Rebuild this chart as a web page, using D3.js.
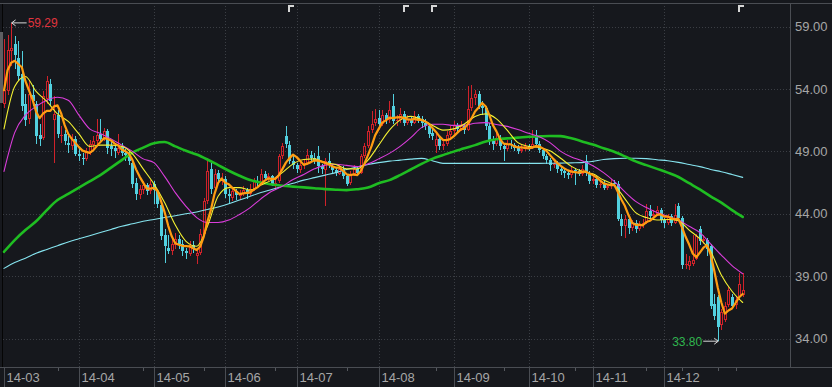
<!DOCTYPE html>
<html><head><meta charset="utf-8">
<script src="https://cdn.jsdelivr.net/npm/d3@7"></script>
<style>
html,body{margin:0;padding:0;background:#16181d;}
svg{display:block;font-family:"Liberation Sans",Arial,sans-serif;}
</style></head><body>
<svg id="chart" width="832" height="387"></svg>
<script>
// ---------- data ----------
const months = ["14-03","14-04","14-05","14-06","14-07","14-08","14-09","14-10","14-11","14-12"];
const daysPerMonth = [21,21,20,20,23,21,21,18,20,23];

const open = [52.8,53.8,57.0,57.6,56.5,55.2,52.8,51.6,53.5,52.8,
50.3,50.1,53.2,54.4,51.5,51.9,50.2,50.4,49.7,49.4,
50.0,48.8,48.5,48.4,48.9,49.5,49.8,50.4,50.0,50.6,
49.4,49.3,48.9,49.4,48.9,48.8,48.1,46.5,45.5,45.9,
46.3,45.8,46.4,45.8,44.7,42.3,41.3,41.0,41.5,42.0,
41.6,41.0,40.8,41.5,40.6,40.9,42.4,45.0,47.6,46.1,
47.3,46.6,46.8,45.6,45.3,45.8,45.4,45.6,45.9,45.6,
46.0,46.6,46.4,47.2,46.9,47.0,46.4,46.6,48.6,50.2,
49.5,48.2,47.9,47.5,47.9,48.0,48.7,48.5,48.6,47.8,
47.5,48.2,47.8,47.5,47.2,47.6,47.0,46.5,47.2,47.6,
47.3,48.6,49.4,50.7,51.3,51.7,51.2,51.9,51.5,52.6,
51.4,51.5,52.0,51.3,51.6,51.3,51.8,51.6,51.3,51.0,
50.5,49.4,50.0,49.4,49.6,50.3,50.6,51.1,50.8,51.0,
50.7,52.5,53.3,53.6,52.6,52.5,51.0,49.8,49.6,50.1,
49.4,49.2,49.6,49.5,49.3,49.0,49.2,49.4,49.3,50.3,
49.6,49.1,48.6,48.3,47.9,48.0,47.6,47.4,47.3,47.1,
47.5,47.4,47.2,48.2,47.2,46.6,46.8,46.3,46.4,46.1,
46.2,46.5,46.4,43.6,43.0,43.6,42.9,43.3,42.8,43.1,
43.3,44.2,43.8,44.0,44.3,43.5,43.3,43.8,43.3,44.6,
43.7,39.9,39.8,40.0,40.4,42.8,41.8,41.9,41.4,36.8,
37.3,35.1,35.5,36.7,37.3,36.7,37.3,37.5];

const high = [58.0,58.3,59.29,58.2,57.8,57.0,53.6,54.6,54.3,53.0,
51.2,53.8,55.0,54.8,53.4,52.3,51.0,50.7,50.2,50.4,
50.2,49.2,48.9,49.3,49.9,50.2,51.6,51.6,50.9,50.8,
49.8,49.6,50.4,49.7,49.2,49.0,48.3,46.9,46.3,46.6,
46.5,46.7,46.6,46.0,44.9,42.8,42.3,42.0,42.5,42.3,
41.9,41.3,41.8,41.8,41.3,42.8,45.3,48.5,48.1,47.6,
47.5,47.3,47.0,46.0,46.1,46.0,45.9,46.2,46.1,46.4,
46.9,47.0,47.6,47.4,47.3,47.1,46.8,48.8,49.7,51.0,
49.8,48.6,48.1,48.2,48.3,49.2,49.0,48.9,49.4,48.0,
48.5,48.9,48.0,47.7,47.9,47.8,47.1,47.4,47.9,47.8,
48.8,49.7,51.0,52.2,52.4,52.3,52.3,52.1,53.0,53.6,
51.9,52.5,52.2,51.9,51.8,52.2,52.0,51.8,51.6,51.2,
50.8,50.4,50.2,50.0,50.6,51.0,51.4,51.3,51.4,51.2,
54.2,54.3,53.9,53.8,53.0,52.6,51.3,50.2,50.5,50.3,
49.7,49.9,49.9,49.7,49.5,49.5,49.7,49.6,50.7,50.7,
49.8,49.3,48.8,48.5,48.4,48.2,47.8,47.6,47.5,47.8,
47.7,47.6,47.9,48.7,47.4,47.0,47.0,46.7,46.6,46.4,
46.8,46.7,46.6,44.0,43.9,43.8,43.5,43.5,43.4,43.6,
44.8,44.7,44.3,44.6,44.5,43.7,44.0,44.0,44.8,44.9,
43.8,40.8,40.6,42.3,42.4,43.0,42.3,42.1,41.6,37.6,
37.5,36.4,36.9,38.1,37.6,37.4,39.3,39.3];

const low = [52.5,53.5,55.8,55.6,54.6,52.2,51.0,51.2,52.6,49.6,
49.4,49.9,52.8,52.6,48.1,50.1,49.7,49.5,48.9,49.1,
48.6,48.2,47.9,48.2,48.7,49.2,49.5,49.7,49.8,48.8,
48.6,48.5,48.7,48.6,48.2,47.9,46.1,45.1,45.2,45.6,
45.5,45.6,44.8,44.5,41.9,40.1,40.8,40.7,41.2,41.2,
40.6,40.4,40.6,40.9,40.0,40.7,42.2,44.8,45.6,45.9,
46.4,46.3,45.3,44.9,45.0,45.1,45.1,45.4,45.2,45.4,
45.8,46.2,46.3,46.6,46.6,46.2,45.9,46.5,48.4,49.3,
48.0,47.6,47.3,47.3,47.6,47.9,48.2,48.0,47.3,47.2,
44.6,47.7,47.2,47.0,47.1,46.8,46.2,46.3,47.0,47.1,
47.2,48.5,49.3,50.5,51.0,50.9,51.0,51.2,51.3,51.2,
51.0,51.3,51.0,51.1,51.0,51.2,51.3,50.9,50.7,50.1,
49.9,48.9,49.1,49.1,49.4,50.0,50.4,50.5,50.6,50.4,
50.6,52.2,52.7,52.4,51.9,50.7,49.5,49.1,49.4,49.1,
48.2,49.0,49.2,49.0,48.8,48.9,49.0,49.0,49.2,49.4,
48.9,48.4,48.0,47.4,47.7,47.3,47.1,46.9,46.8,46.9,
46.3,47.0,47.0,47.0,46.4,46.4,46.1,46.1,45.9,45.9,
46.0,46.2,43.4,42.2,42.1,42.4,42.6,42.5,42.6,42.9,
43.2,43.6,43.5,43.8,43.3,42.9,43.1,43.0,43.2,43.5,
39.6,39.6,39.5,39.8,40.3,41.5,41.6,40.6,36.4,35.5,
33.8,34.7,35.3,36.5,36.4,36.4,37.1,37.3];

const close = [53.9,57.1,57.3,56.7,55.0,52.6,51.5,53.6,53.0,50.2,
50.0,53.4,54.6,53.0,52.0,50.4,50.3,49.8,49.5,50.0,
48.8,48.6,48.4,49.0,49.6,49.8,50.3,50.0,50.6,49.3,
49.2,49.0,49.3,48.9,48.7,48.2,46.4,45.6,46.0,46.3,
45.8,46.4,45.9,44.8,42.2,41.4,41.0,41.6,42.0,41.6,
41.0,40.9,41.5,41.2,40.9,42.4,45.0,47.4,46.0,47.2,
46.8,46.8,45.6,45.4,45.8,45.5,45.6,45.9,45.6,46.0,
46.6,46.5,47.2,46.9,47.0,46.4,46.5,48.6,49.4,49.6,
48.2,47.9,47.6,47.9,48.0,48.7,48.5,48.3,47.8,47.6,
48.2,47.9,47.5,47.3,47.6,47.0,46.4,47.2,47.6,47.3,
48.6,49.4,50.6,51.2,51.6,51.2,51.9,51.5,52.3,51.4,
51.5,52.0,51.3,51.6,51.3,51.8,51.6,51.3,51.0,50.4,
50.2,50.0,49.4,49.6,50.3,50.6,51.1,50.8,51.0,50.7,
52.4,53.3,53.6,52.6,52.5,51.0,49.8,49.6,50.1,49.4,
49.2,49.6,49.5,49.3,49.0,49.2,49.4,49.3,49.6,49.6,
49.1,48.6,48.3,47.9,48.0,47.6,47.4,47.3,47.1,47.5,
47.4,47.2,47.6,47.3,46.6,46.8,46.3,46.4,46.1,46.2,
46.5,46.4,43.6,43.0,43.6,42.9,43.3,42.8,43.1,43.3,
44.2,43.8,44.0,44.3,43.5,43.3,43.8,43.3,43.9,43.7,
39.9,40.0,40.2,40.3,42.2,41.8,42.0,41.2,36.6,35.8,
34.9,36.1,36.6,37.9,36.6,37.1,38.4,37.9];

// moving averages, one reading every `maSampleStep` sessions
const maSampleStep = 3;
const ma10 = [50.8,54.2,55.0,53.8,53.0,52.0,51.4,50.4,49.4,49.5,
49.5,49.4,48.8,47.6,46.4,44.9,43.1,41.8,41.4,43.0,
45.4,46.1,46.1,45.9,46.3,46.7,47.3,48.0,48.35,48.4,
48.1,47.95,47.6,47.6,48.3,49.5,50.7,51.5,51.8,51.55,
51.1,50.7,50.8,51.2,51.8,52.0,51.6,50.7,49.7,49.4,
49.3,49.05,48.45,47.8,47.4,47.2,46.7,46.3,45.2,44.1,
43.7,43.5,43.55,43.45,42.7,42.0,41.0,39.1,37.8,36.9];
const ma20 = [47.4,50.5,51.9,52.6,53.1,53.33,53.1,51.9,50.8,50.44,
50.0,49.5,49.0,48.4,48.1,47.0,45.7,44.6,43.7,43.3,
43.3,43.5,43.95,44.5,45.2,45.8,46.2,46.75,47.15,47.6,
47.9,47.97,47.88,47.78,48.0,48.4,48.84,49.4,50.1,50.9,
51.17,51.17,51.08,51.1,51.25,51.3,51.15,51.0,50.75,50.45,
50.17,49.7,49.0,48.55,48.25,47.85,47.3,46.6,45.75,45.0,
44.5,44.1,43.8,43.5,43.0,42.5,41.6,40.7,39.85,39.2];
const ma60 = [40.96,41.9,42.7,43.4,44.3,45.1,45.6,46.1,46.6,47.1,
47.7,48.3,48.9,49.3,49.65,49.75,49.4,49.05,48.75,48.35,
47.9,47.45,47.05,46.7,46.5,46.35,46.25,46.18,46.12,46.05,
45.98,45.93,45.9,45.97,46.1,46.45,46.7,47.1,47.55,48.0,
48.4,48.7,48.98,49.25,49.5,49.8,49.97,50.04,50.1,50.17,
50.2,50.23,50.22,50.05,49.8,49.55,49.25,48.97,48.6,48.2,
47.9,47.6,47.3,46.95,46.45,45.95,45.4,44.9,44.3,43.75];
const ma120 = [39.63,40.1,40.45,40.85,41.15,41.45,41.75,42.0,42.25,42.5,
42.75,43.0,43.2,43.4,43.55,43.7,43.85,44.0,44.15,44.35,
44.55,44.8,45.1,45.4,45.7,45.95,46.2,46.45,46.7,46.9,
47.1,47.3,47.55,47.75,47.95,48.1,48.22,48.3,48.38,48.44,
48.25,48.04,48.04,48.04,48.04,48.04,48.04,48.04,48.04,48.04,
48.04,48.05,48.06,48.08,48.1,48.2,48.35,48.42,48.45,48.45,
48.42,48.33,48.25,48.12,47.95,47.78,47.55,47.37,47.15,46.92];

const yTicks = [59,54,49,44,39,34];
const eventIdx = [80,112,120,206];
const minorTickIdx = [15,39,56,76,96,121,140,160,180,190,200,205];

// ---------- drawing ----------
const W = 832, H = 387;
const P = {left:3, right:790.5, top:3, bottom:366.5};
const n = close.length;
const idx = d3.range(n);
const x = d3.scalePoint().domain(idx).range([4, 742.7]);
const y = d3.scaleLinear().domain([34, 59]).range([338.7, 26.5]);

const C = {bg:"#16181d", grid:"#3b3e44", axis:"#4a4d53", text:"#a6a6a6",
  up:"#d0222a", down:"#52d0df", ma5:"#ff9d12", ma10:"#f4f232", ma20:"#db3ddb",
  ma60:"#1fbd22", ma120:"#86e4ef"};

const svg = d3.select("#chart");
svg.append("rect").attr("width", W).attr("height", H).attr("fill", C.bg);

const monthStart = daysPerMonth.map((d,k) => d3.sum(daysPerMonth.slice(0,k)));
const px = i => Math.round(x(i));

// grid
const grid = svg.append("g").attr("shape-rendering","crispEdges");
grid.selectAll("line.h").data(yTicks).join("line")
  .attr("x1", P.left).attr("x2", P.right)
  .attr("y1", d => Math.round(y(d))+0.5).attr("y2", d => Math.round(y(d))+0.5)
  .attr("stroke", C.grid).attr("stroke-dasharray","1,2");
grid.selectAll("line.v").data(monthStart.slice(1)).join("line")
  .attr("x1", d => px(d)+0.5).attr("x2", d => px(d)+0.5)
  .attr("y1", P.top).attr("y2", P.bottom)
  .attr("stroke", C.grid).attr("stroke-dasharray","1,2");

// frame
const frame = svg.append("g").attr("shape-rendering","crispEdges");
frame.append("line").attr("x1",0).attr("x2",W).attr("y1",3.5).attr("y2",3.5).attr("stroke",C.axis);
frame.append("line").attr("x1",P.right).attr("x2",P.right).attr("y1",3).attr("y2",P.bottom).attr("stroke",C.axis);
frame.append("line").attr("x1",2.5).attr("x2",2.5).attr("y1",4).attr("y2",P.bottom).attr("stroke","#050505");
frame.append("rect").attr("x",0).attr("y",32).attr("width",2.5).attr("height",71).attr("fill","#5e5f62");

// y axis
const yAxis = svg.append("g").attr("transform",`translate(${P.right},0)`)
  .call(d3.axisRight(y).tickValues(yTicks).tickFormat(d3.format(".2f")).tickSize(0).tickPadding(4.5));
yAxis.select(".domain").remove();
yAxis.selectAll("text").attr("fill",C.text).attr("font-size","13px")
  .attr("font-family",'"Liberation Sans",Arial,sans-serif');

// x axis
const xAxis = svg.append("g").attr("transform",`translate(0,${P.bottom})`)
  .call(d3.axisBottom(x).tickValues(monthStart).tickFormat((d,k) => months[k]).tickSize(H-P.bottom).tickSizeOuter(0));
xAxis.select(".domain").attr("d", `M0,0.5H${W}`).attr("stroke",C.axis).attr("shape-rendering","crispEdges");
xAxis.selectAll(".tick").attr("transform", d => `translate(${px(d)+0.5},0)`);
xAxis.selectAll(".tick line").attr("stroke",C.axis).attr("shape-rendering","crispEdges");
xAxis.selectAll(".tick text").attr("text-anchor","start").attr("x",2).attr("y",6).attr("dy","0.71em")
  .attr("fill",C.text).attr("font-size","13px").attr("font-family",'"Liberation Sans",Arial,sans-serif');
svg.append("g").attr("shape-rendering","crispEdges").selectAll("line").data(minorTickIdx).join("line")
  .attr("x1", d => px(d)+0.5).attr("x2", d => px(d)+0.5)
  .attr("y1", P.bottom+1).attr("y2", P.bottom+4).attr("stroke","#55585e");

// candles
const cg = svg.append("g").attr("shape-rendering","crispEdges");
idx.forEach(i => {
  const o = open[i], c = close[i], h = high[i], l = low[i];
  const cx = px(i);
  const up = c >= o;
  const col = up ? C.up : C.down;
  const yT = Math.round(y(Math.max(o,c))), yB = Math.round(y(Math.min(o,c)));
  const yH = Math.round(y(h)), yL = Math.round(y(l));
  if (up) {
    cg.append("line").attr("x1",cx+0.5).attr("x2",cx+0.5).attr("y1",yH).attr("y2",yT).attr("stroke",col);
    cg.append("line").attr("x1",cx+0.5).attr("x2",cx+0.5).attr("y1",yB).attr("y2",yL).attr("stroke",col);
    if (yB - yT >= 2) {
      cg.append("rect").attr("x",cx-0.5).attr("y",yT+0.5).attr("width",2).attr("height",yB-yT-1)
        .attr("fill","none").attr("stroke",col);
    } else {
      cg.append("rect").attr("x",cx-1).attr("y",yT).attr("width",3).attr("height",Math.max(1,yB-yT)).attr("fill",col);
    }
  } else {
    cg.append("line").attr("x1",cx+0.5).attr("x2",cx+0.5).attr("y1",yH).attr("y2",yL).attr("stroke",col);
    cg.append("rect").attr("x",cx-1).attr("y",yT).attr("width",3).attr("height",Math.max(1,yB-yT)).attr("fill",col);
  }
});

// moving averages
const ma5 = idx.map(i => d3.mean(close.slice(Math.max(0,i-4), i+1)));
const sampled = arr => arr.map((v,k) => [k*maSampleStep, v]);
const lineS = d3.line().x(d => x(d[0])).y(d => y(d[1])).curve(d3.curveMonotoneX);
const lg = svg.append("g").attr("fill","none").attr("stroke-linejoin","round").attr("stroke-linecap","round");
lg.append("path").attr("d", lineS(sampled(ma120))).attr("stroke",C.ma120).attr("stroke-width",1.1);
lg.append("path").attr("d", lineS(sampled(ma60))).attr("stroke",C.ma60).attr("stroke-width",2.6);
lg.append("path").attr("d", lineS(sampled(ma20))).attr("stroke",C.ma20).attr("stroke-width",1.1);
lg.append("path").attr("d", lineS(sampled(ma10))).attr("stroke",C.ma10).attr("stroke-width",1.1);
lg.append("path").attr("d", d3.line().x((d,i) => x(i)).y(d => y(d))(ma5)).attr("stroke",C.ma5).attr("stroke-width",2.2);

// event flags
svg.append("g").selectAll("path").data(eventIdx).join("path")
  .attr("d", d => { const x0 = px(d) - 1.5; return `M${x0},5h6v2h-4v5h-2Z`; })
  .attr("fill","#d6d6d6").attr("shape-rendering","crispEdges");

// high / low markers
const hi = d3.maxIndex(high), lo = d3.minIndex(low);
const ann = svg.append("g");
function arrow(tipX, yy, dir) { // dir=-1 points left, +1 points right
  const tail = tipX - dir*15;
  return `M${tail},${yy}H${tipX}M${tipX - dir*4},${yy-3}L${tipX},${yy}L${tipX - dir*4},${yy+3}`;
}
const hy = y(high[hi]), hx = x(hi) + 0.5;
ann.append("path").attr("d", arrow(hx, hy, -1)).attr("stroke","#d8d8d8").attr("fill","none").attr("stroke-width",1);
ann.append("text").attr("x", hx + 16).attr("y", hy).attr("dy","0.36em").attr("font-size","12px")
  .attr("fill","#e0343e").text(high[hi].toFixed(2));
const ly = y(low[lo]), lx = x(lo) + 0.5;
ann.append("path").attr("d", arrow(lx, ly, 1)).attr("stroke","#d8d8d8").attr("fill","none").attr("stroke-width",1);
ann.append("text").attr("x", lx - 16).attr("y", ly).attr("dy","0.36em").attr("text-anchor","end").attr("font-size","12px")
  .attr("fill","#2fb54e").text(low[lo].toFixed(2));
</script>
</body></html>
